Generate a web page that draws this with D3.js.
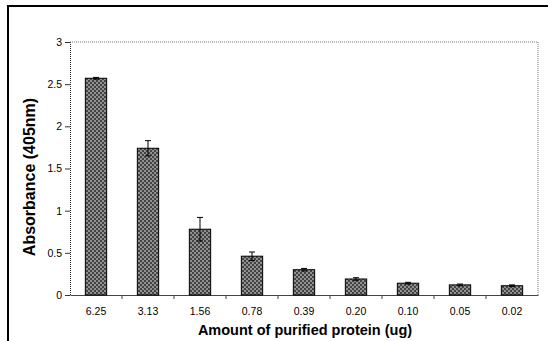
<!DOCTYPE html>
<html><head><meta charset="utf-8">
<script src="https://cdn.jsdelivr.net/npm/d3@7"></script>
<style>body{margin:0;background:#fff}svg{display:block}</style>
</head><body>
<script>
const categories = ["6.25","3.13","1.56","0.78","0.39","0.20","0.10","0.05","0.02"];
const values = [2.57,1.74,0.78,0.46,0.30,0.19,0.14,0.12,0.11];
const errors = [0.01,0.09,0.14,0.05,0.015,0.015,0.01,0.01,0.01];
const yTicks = [0,0.5,1,1.5,2,2.5,3];
const xTitle = "Amount of purified protein (ug)";
const yTitle = "Absorbance (405nm)";

const W = 553, H = 341;
const svg = d3.select("body").append("svg").attr("width", W).attr("height", H);
const font = "'Liberation Sans', Arial, sans-serif";

const defs = svg.append("defs");
const pat = defs.append("pattern").attr("id","hatch").attr("patternUnits","userSpaceOnUse")
  .attr("width",4).attr("height",4);
pat.append("rect").attr("width",4).attr("height",4).attr("fill","#909090");
pat.append("rect").attr("width",2).attr("height",2).attr("fill","#444");
pat.append("rect").attr("x",2).attr("y",2).attr("width",2).attr("height",2).attr("fill","#444");

// outer frame
svg.append("path").attr("d","M8,341V6H548").attr("fill","none").attr("stroke","#000").attr("stroke-width",2);

const L = 70, R = 538, T = 42, B = 295;
const x = d3.scaleBand().domain(categories).range([L, R]).paddingInner(0).paddingOuter(0);
const y = d3.scaleLinear().domain([0, 3]).range([B, T]);

// plot border top/right dotted
svg.append("path").attr("d",`M${L},${T}H${R}V${B}`).attr("fill","none")
  .attr("stroke","#777").attr("stroke-width",1).attr("stroke-dasharray","1,1");

// y axis
const yAxis = svg.append("g").attr("transform",`translate(${L},0)`)
  .call(d3.axisLeft(y).tickValues(yTicks).tickSize(5).tickPadding(3).tickFormat(d3.format("~g")));
yAxis.select(".domain").attr("stroke","#222").attr("stroke-dasharray","1,1");
yAxis.selectAll(".tick line").attr("stroke","#333");
yAxis.selectAll("text").attr("font-family",font).attr("font-size",10.5).attr("fill","#000");

// x axis
const xAxis = svg.append("g").attr("transform",`translate(0,${B})`)
  .call(d3.axisBottom(x).tickSize(0).tickPadding(13));
xAxis.select(".domain").attr("stroke","#444");
xAxis.selectAll("text").attr("font-family",font).attr("font-size",10.5).attr("fill","#000");
// tick marks at category boundaries
svg.append("g").selectAll("line").data(categories.slice(1)).join("line")
  .attr("x1", d => x(d)).attr("x2", d => x(d)).attr("y1", B).attr("y2", B+4)
  .attr("stroke","#444");

// bars
const bw = x.bandwidth()*0.41;
svg.append("g").selectAll("rect").data(values).join("rect")
  .attr("x",(d,i)=> x(categories[i]) + x.bandwidth()/2 - bw/2)
  .attr("y", d => y(d)).attr("width", bw).attr("height", d => B - y(d))
  .attr("fill","url(#hatch)").attr("stroke","#000").attr("stroke-width",1);

// error bars
const eb = svg.append("g").attr("stroke","#000").attr("stroke-width",1);
values.forEach((v,i)=>{
  const cx = x(categories[i]) + x.bandwidth()/2;
  const y1 = y(v+errors[i]), y2 = y(v-errors[i]);
  eb.append("line").attr("x1",cx).attr("x2",cx).attr("y1",y1).attr("y2",y2);
  eb.append("line").attr("x1",cx-3).attr("x2",cx+3).attr("y1",y1).attr("y2",y1);
  eb.append("line").attr("x1",cx-3).attr("x2",cx+3).attr("y1",y2).attr("y2",y2);
});

// titles
svg.append("text").attr("x",305).attr("y",335).attr("text-anchor","middle")
  .attr("font-family",font).attr("font-weight","bold").attr("font-size",14.5).text(xTitle);
svg.append("text").attr("transform","translate(35,177) rotate(-90)").attr("text-anchor","middle")
  .attr("font-family",font).attr("font-weight","bold").attr("font-size",16).text(yTitle);
</script>
</body></html>
